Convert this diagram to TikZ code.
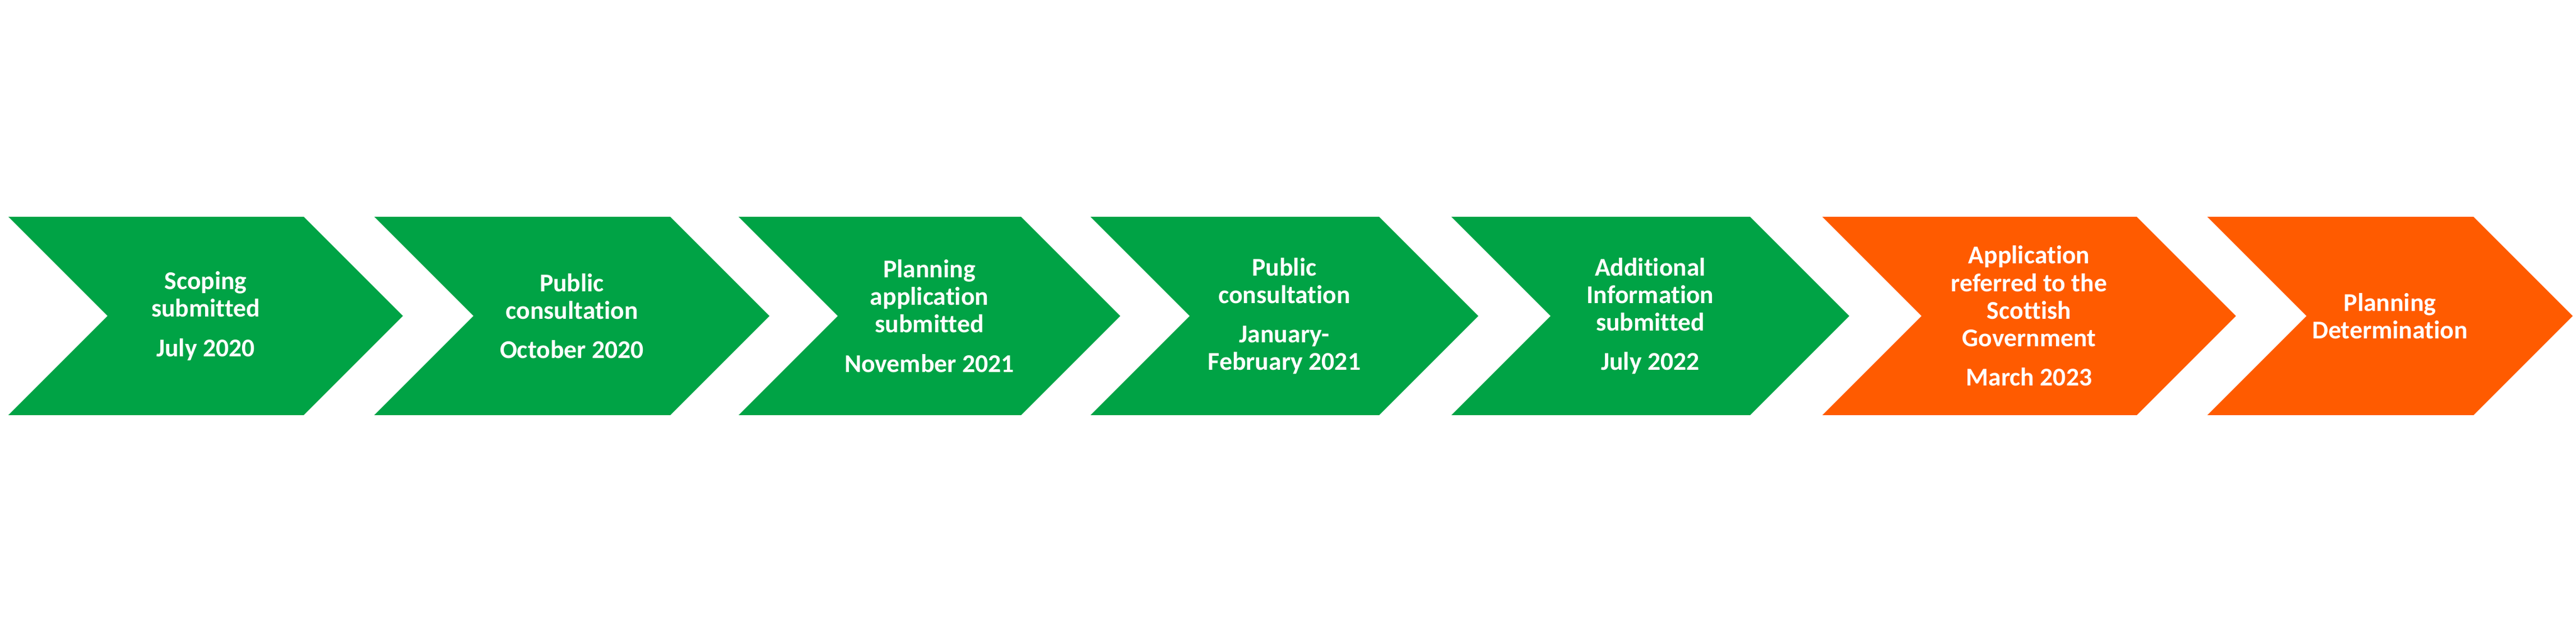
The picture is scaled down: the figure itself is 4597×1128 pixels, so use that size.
\documentclass[tikz,border=0pt]{standalone}
\usepackage{fontspec}
\setmainfont[Ligatures=NoCommon]{Carlito}
\usepackage{tikz}
\definecolor{stepgreen}{RGB}{0,163,69}
\definecolor{steporange}{RGB}{255,91,0}
\tikzset{t/.style={font=\bfseries\fontsize{13}{14}\selectfont,text=white,align=center}}

\begin{document}
\begin{tikzpicture}[x=0.01cm,y=0.01cm]
          \useasboundingbox (0,0) rectangle (4597,1128);
          \foreach \l/\r/\c/\n in {15/542/stepgreen/s1,668/1196/stepgreen/s2,1318/1822/stepgreen/s3,1946/2461/stepgreen/s4,2590/3123/stepgreen/s5,3252/3813/steporange/s6,3939/4414/steporange/s7}{
            \fill[\c] (\l,741)--(\r,741)--(\r+177,564)--(\r,387)--(\l,387)--(\l+177,564)--cycle;
            \coordinate (\n) at ({(\l+\r+177)/2},564);
          }
          \node[t] (t1) at (s1) {Scoping\\submitted\\[6pt]July 2020};
          \node[t] (t2) at (s2) {Public\\consultation\\[6pt]October 2020};
          \node[t] (t3) at (s3) {Planning\\application\\submitted\\[6pt]November 2021};
          \node[t] (t4) at (s4) {Public\\consultation\\[6pt]January-\\February 2021};
          \node[t] (t5) at (s5) {Additional\\Information\\submitted\\[6pt]July 2022};
          \node[t] (t6) at (s6) {Application\\referred to the\\Scottish\\Government\\[6pt]March 2023};
          \node[t] (t7) at (s7) {Planning\\Determination};
        \end{tikzpicture}
\end{document}
